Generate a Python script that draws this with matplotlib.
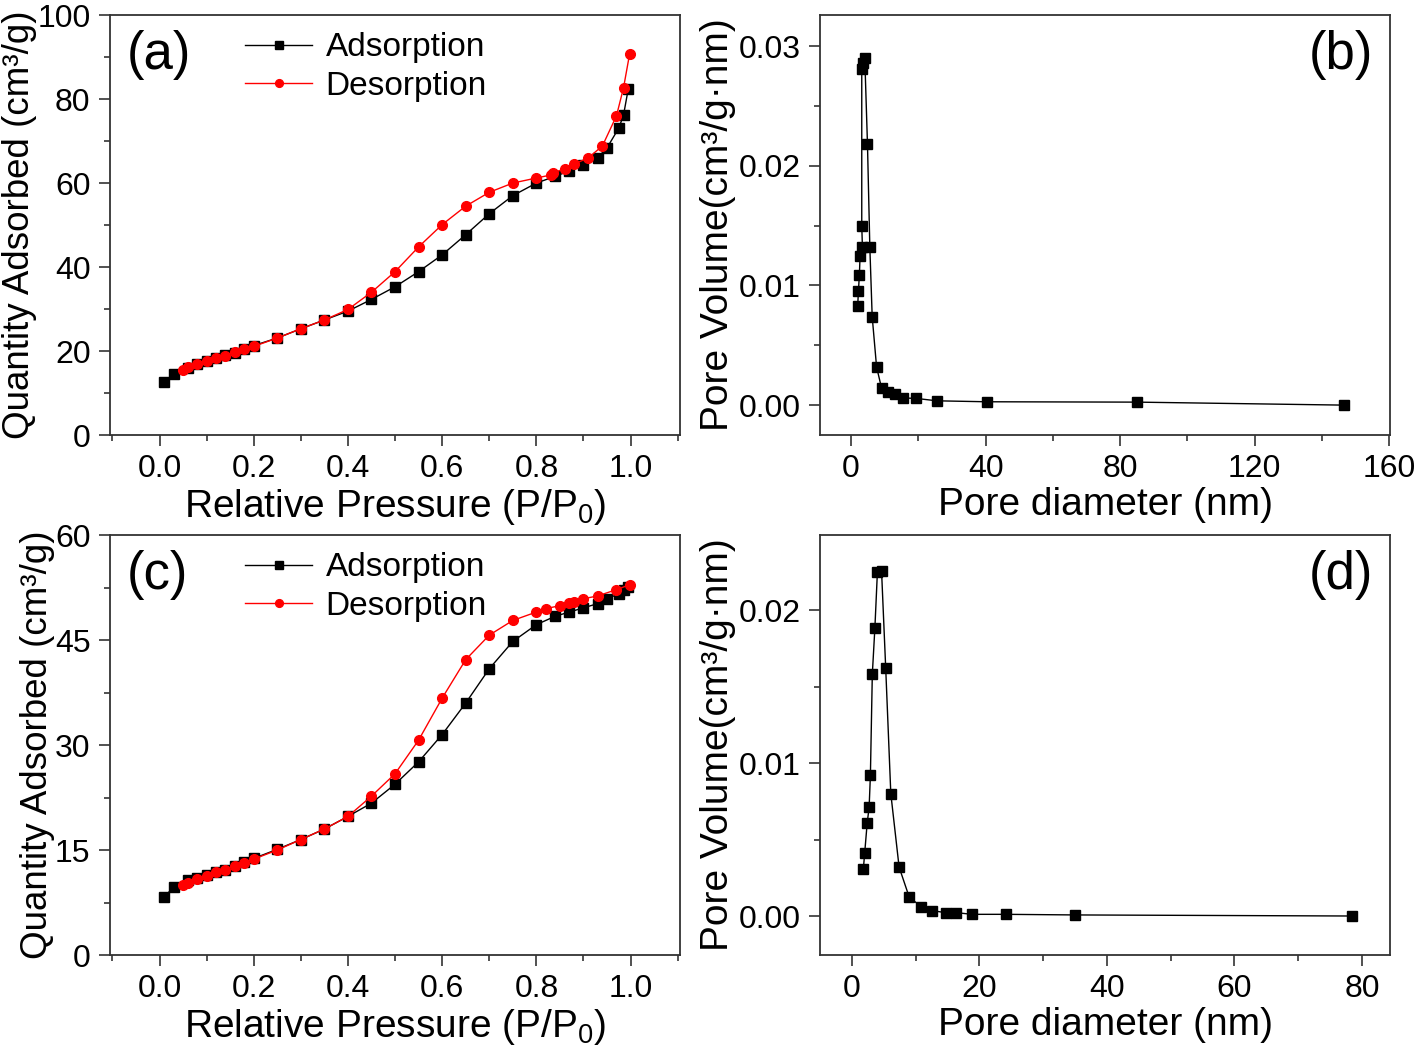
import numpy as np
import matplotlib
matplotlib.use('Agg')
import matplotlib.pyplot as plt
from matplotlib.ticker import MultipleLocator

plt.rcParams['font.family'] = ['Liberation Sans', 'DejaVu Sans']
plt.rcParams['mathtext.fontset'] = 'custom'
plt.rcParams['mathtext.rm'] = 'Liberation Sans'

#DATA
#(a) isotherm, sample 1
p_ads_a = [0.01, 0.03, 0.06, 0.08, 0.10, 0.12, 0.14, 0.16, 0.18, 0.20, 0.25, 0.30, 0.35, 0.40,
           0.45, 0.50, 0.55, 0.60, 0.65, 0.70, 0.75, 0.80, 0.84, 0.87, 0.90, 0.93, 0.95, 0.975,
           0.985, 0.995]
q_ads_a = [12.7, 14.5, 16.0, 16.8, 17.6, 18.4, 19.0, 19.6, 20.4, 21.3, 23.1, 25.3, 27.4, 29.5,
           32.3, 35.3, 38.9, 42.9, 47.7, 52.7, 57.0, 60.0, 61.6, 62.9, 64.4, 66.0, 68.4, 73.1,
           76.2, 82.4]
p_des_a = [0.05, 0.06, 0.08, 0.10, 0.12, 0.14, 0.16, 0.18, 0.20, 0.25, 0.30, 0.35, 0.40, 0.45,
           0.50, 0.55, 0.60, 0.65, 0.70, 0.75, 0.80, 0.83, 0.835, 0.86, 0.88, 0.91, 0.94, 0.97,
           0.985, 0.998]
q_des_a = [15.5, 16.2, 16.8, 17.6, 18.4, 18.9, 19.7, 20.5, 21.1, 23.1, 25.3, 27.4, 29.9, 34.0,
           38.9, 44.8, 50.1, 54.5, 57.8, 60.0, 61.2, 61.9, 62.4, 63.4, 64.5, 66.0, 68.8, 76.0,
           82.7, 90.8]

#(b) pore size distribution, sample 1
d_b = [2.0, 2.2, 2.5, 2.7, 3.4, 3.2, 3.2, 3.6, 4.1, 4.9, 5.6, 6.3, 7.6, 9.1, 11.0, 13.0, 15.4,
       19.4, 25.5, 40.3, 85.0, 146.5]
v_b = [0.0083, 0.0095, 0.0109, 0.0125, 0.0132, 0.0150, 0.0281, 0.0286, 0.0290, 0.0218, 0.0132,
       0.0074, 0.0032, 0.0014, 0.0011, 0.0009, 0.0006, 0.00056, 0.00036, 0.00028, 0.00025, 0.0]

#(c) isotherm, sample 2
p_ads_c = [0.01, 0.03, 0.06, 0.08, 0.10, 0.12, 0.14, 0.16, 0.18, 0.20, 0.25, 0.30, 0.35, 0.40,
           0.45, 0.50, 0.55, 0.60, 0.65, 0.70, 0.75, 0.80, 0.84, 0.87, 0.90, 0.93, 0.95, 0.975,
           0.985, 0.995]
q_ads_c = [8.3, 9.7, 10.7, 11.0, 11.4, 11.9, 12.2, 12.7, 13.3, 13.8, 15.1, 16.5, 18.0, 19.8,
           21.7, 24.4, 27.6, 31.5, 36.0, 40.9, 44.8, 47.2, 48.4, 49.0, 49.6, 50.2, 50.9, 51.6,
           52.1, 52.6]
p_des_c = [0.05, 0.06, 0.08, 0.10, 0.12, 0.14, 0.16, 0.18, 0.20, 0.25, 0.30, 0.35, 0.40, 0.45,
           0.50, 0.55, 0.60, 0.65, 0.70, 0.75, 0.80, 0.82, 0.85, 0.87, 0.88, 0.90, 0.93, 0.97,
           0.998]
q_des_c = [10.0, 10.3, 10.8, 11.3, 11.8, 12.2, 12.7, 13.2, 13.7, 15.0, 16.5, 18.0, 19.8, 22.7,
           25.9, 30.7, 36.7, 42.2, 45.7, 47.8, 49.0, 49.5, 49.9, 50.3, 50.4, 50.9, 51.3, 52.2,
           52.9]

#(d) pore size distribution, sample 2
d_d = [1.8, 2.0, 2.4, 2.7, 2.9, 3.2, 3.6, 4.0, 4.65, 5.3, 6.1, 7.4, 9.0, 10.9, 12.6, 14.7,
       16.4, 18.8, 24.1, 35.0, 78.4]
v_d = [0.0031, 0.0041, 0.0061, 0.0071, 0.0092, 0.0158, 0.0188, 0.0225, 0.02255, 0.0162, 0.0080,
       0.0032, 0.00122, 0.00061, 0.00035, 0.00022, 0.00022, 0.00011, 0.00011, 0.00007, 0.0]


#FUNCTIONS
def style_axis(ax):
    ax.tick_params(which='both', direction='out', top=False, right=False, labelsize=23,
                   width=1.2, color='#333333')
    ax.tick_params(which='major', length=8, pad=6)
    ax.tick_params(which='minor', length=4)
    for s in ax.spines.values():
        s.set_linewidth(1.3)
        s.set_color('#333333')


def isotherm(ax, p_ads, q_ads, p_des, q_des, ymax, ystep, tag):
    ax.plot(p_ads, q_ads, '-s', color='black', lw=1, ms=6.5, label='Adsorption')
    ax.plot(p_des, q_des, '-o', color='red', lw=1, ms=7, label='Desorption')
    ax.set_xlim(-0.105, 1.105)
    ax.set_ylim(0, ymax)
    ax.xaxis.set_major_locator(MultipleLocator(0.2))
    ax.xaxis.set_minor_locator(MultipleLocator(0.1))
    ax.yaxis.set_major_locator(MultipleLocator(ystep))
    ax.yaxis.set_minor_locator(MultipleLocator(ystep/2))
    ax.xaxis.set_major_formatter(matplotlib.ticker.FormatStrFormatter('%.1f'))
    ax.set_xlabel('Relative Pressure (P/P$_0$)', size=28, labelpad=2)
    ax.set_ylabel('Quantity Adsorbed (cm³/g)', size=26.5, labelpad=0)
    ax.text(0.03, 0.965, tag, transform=ax.transAxes, size=38, va='top', ha='left')
    ax.legend(loc='upper left', bbox_to_anchor=(0.185, 1.03), frameon=False, fontsize=24,
              handlelength=2.0, handletextpad=0.4, labelspacing=0.22, markerscale=0.8)
    style_axis(ax)


def psd(ax, d, v, xlim, xstep, ylim, tag):
    ax.plot(d, v, '-s', color='black', lw=1, ms=6.5, mfc='black', mec='black')
    ax.set_xlim(*xlim)
    ax.set_ylim(*ylim)
    ax.xaxis.set_major_locator(MultipleLocator(xstep))
    ax.xaxis.set_minor_locator(MultipleLocator(xstep/2))
    ax.yaxis.set_major_locator(MultipleLocator(0.01))
    ax.yaxis.set_minor_locator(MultipleLocator(0.005))
    ax.yaxis.set_major_formatter(matplotlib.ticker.FormatStrFormatter('%.2f'))
    ax.set_xlabel('Pore diameter (nm)', size=28, labelpad=2)
    ax.set_ylabel('Pore Volume(cm³/g·nm)', size=28, labelpad=2)
    ax.text(0.97, 0.965, tag, transform=ax.transAxes, size=38, va='top', ha='right')
    style_axis(ax)


#"MAIN"
fig = plt.figure(figsize=(14.18, 10.45), dpi=100)
w = 0.402
ax_a = fig.add_axes([0.0776, 0.5837, w, 0.4019])
ax_b = fig.add_axes([0.5783, 0.5837, w, 0.4019])
ax_c = fig.add_axes([0.0776, 0.0861, w, 0.4019])
ax_d = fig.add_axes([0.5783, 0.0861, w, 0.4019])

isotherm(ax_a, p_ads_a, q_ads_a, p_des_a, q_des_a, 100, 20, '(a)')
psd(ax_b, d_b, v_b, (-9.2, 160.2), 40, (-0.0025, 0.0326), '(b)')
isotherm(ax_c, p_ads_c, q_ads_c, p_des_c, q_des_c, 60, 15, '(c)')
psd(ax_d, d_d, v_d, (-5, 84.4), 20, (-0.00255, 0.0249), '(d)')

fig.savefig('out.png', dpi=100)
